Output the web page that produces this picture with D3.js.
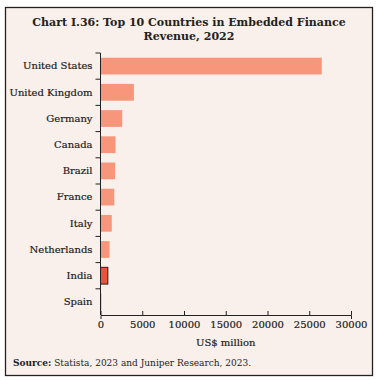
<!DOCTYPE html>
<html><head><meta charset="utf-8">
<script src="https://cdn.jsdelivr.net/npm/d3@7"></script>
<style>body{margin:0;background:#fff;}svg{display:block;}</style>
</head><body>
<script>
const countries = ["United States","United Kingdom","Germany","Canada","Brazil","France","Italy","Netherlands","India","Spain"];
const revenue = [26500, 4000, 2600, 1800, 1750, 1650, 1350, 1080, 880, 120];
const xTicks = [0,5000,10000,15000,20000,25000,30000];
const highlight = "India";

const W=378,H=381;
const svg=d3.select("body").append("svg").attr("width",W).attr("height",H);
svg.append("rect").attr("x",5.5).attr("y",7.5).attr("width",367).attr("height",368)
  .attr("fill","#f9f0eb").attr("stroke","#222").attr("stroke-width",1.3);

const serif="'DejaVu Serif', serif";
const title=svg.append("text").attr("text-anchor","middle").attr("font-family",serif)
  .attr("font-weight","bold").attr("font-size",11).attr("fill","#222");
title.append("tspan").attr("x",189).attr("y",26).text("Chart I.36: Top 10 Countries in Embedded Finance");
title.append("tspan").attr("x",189).attr("y",40).text("Revenue, 2022");

const x=d3.scaleLinear().domain([0,30000]).range([100.5,351]);
const y=d3.scaleBand().domain(countries).range([53,315]).paddingInner(0.36).paddingOuter(0.18);

const g=svg.append("g");
g.selectAll("rect.bar").data(countries).join("rect").attr("class","bar")
  .attr("x",x(0)).attr("y",d=>y(d)).attr("height",y.bandwidth())
  .attr("width",(d,i)=>x(revenue[i])-x(0))
  .attr("fill",d=>d===highlight?"#e8553a":"#f7967a")
  .attr("stroke",d=>d===highlight?"#222":"none").attr("stroke-width",1);

const yAxis=d3.axisLeft(y).tickSizeOuter(0).tickSizeInner(5);
const ya=svg.append("g").attr("transform",`translate(${x(0)},0)`).call(yAxis);
ya.selectAll(".tick line").remove();
ya.select(".domain").attr("stroke","#222").attr("d",`M0,53V315`);
const bounds=d3.range(countries.length).map(i=>53+i*(262/countries.length));
ya.selectAll("line.bt").data(bounds).join("line").attr("class","bt")
  .attr("x1",-5).attr("x2",0).attr("y1",d=>d).attr("y2",d=>d).attr("stroke","#222");
ya.selectAll(".tick text").attr("x",-8).attr("font-family",serif).attr("font-size",10).attr("fill","#1a1a1a")
  .attr("stroke","#1a1a1a").attr("stroke-width",0.2);

const xAxis=d3.axisBottom(x).tickValues(xTicks).tickFormat(d3.format("d")).tickSizeOuter(0).tickSize(4);
const xa=svg.append("g").attr("transform","translate(0,315)").call(xAxis);
xa.select(".domain").attr("stroke","#222");
xa.selectAll(".tick line").attr("stroke","#222").attr("y2",-4).attr("y1",0);
xa.selectAll(".tick text").attr("y",6).attr("font-family",serif).attr("font-size",10).attr("fill","#1a1a1a")
  .attr("stroke","#1a1a1a").attr("stroke-width",0.2);

svg.append("text").attr("x",(x(0)+x(30000))/2).attr("y",346).attr("text-anchor","middle")
  .attr("font-family",serif).attr("font-size",10).attr("fill","#1a1a1a")
  .attr("stroke","#1a1a1a").attr("stroke-width",0.2).text("US$ million");

const src=svg.append("text").attr("x",13).attr("y",366).attr("font-family",serif).attr("font-size",9).attr("fill","#222");
src.append("tspan").attr("font-weight","bold").text("Source:");
src.append("tspan").text(" Statista, 2023 and Juniper Research, 2023.");
</script>
</body></html>
